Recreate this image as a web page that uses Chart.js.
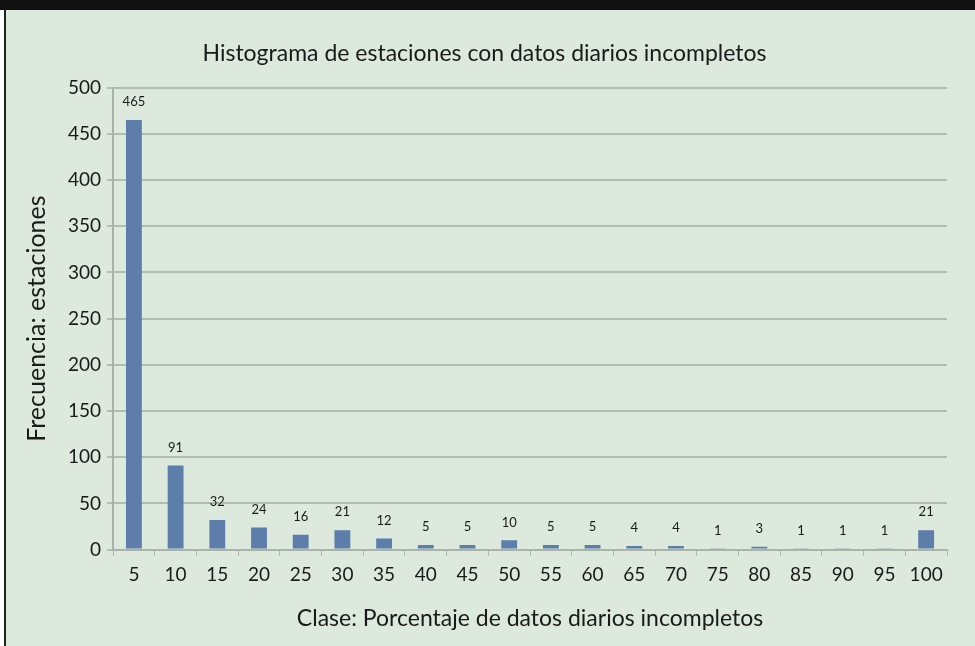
<!DOCTYPE html>
<html>
<head>
<meta charset="utf-8">
<script src="https://cdn.jsdelivr.net/npm/chart.js@4/dist/chart.umd.min.js"></script>
<style>
  html, body { margin: 0; padding: 0; background: #ffffff; }
  #frame {
    position: absolute; left: 0; top: 0; width: 975px; height: 646px;
    box-sizing: border-box; border-top: 10px solid #111;
  }
  #inner {
    position: absolute; left: 4px; top: 0; right: 0; bottom: 0;
    border-left: 2px solid #222; background: #dde9dc;
  }
  #chart { position: absolute; left: 0; top: 0; }
</style>
</head>
<body>
<div id="frame"><div id="inner"><canvas id="chart" width="969" height="636"></canvas></div></div>
<script>
// Clases (porcentaje de datos diarios incompletos)
const clases = ["5", "10", "15", "20", "25", "30", "35", "40", "45", "50",
                "55", "60", "65", "70", "75", "80", "85", "90", "95", "100"];

// Frecuencia: número de estaciones por clase
const frecuencias = [465, 91, 32, 24, 16, 21, 12, 5, 5, 10,
                     5, 5, 4, 4, 1, 3, 1, 1, 1, 21];

const yTicks = [0, 50, 100, 150, 200, 250, 300, 350, 400, 450, 500];

const fontFamily = "Lato, 'Open Sans', sans-serif";
const textColor = "#1a1a1a";

// etiquetas de valor encima de cada barra
const barLabels = {
    id: "barLabels",
    afterDatasetsDraw(chart) {
        const ctx = chart.ctx;
        const meta = chart.getDatasetMeta(0);
        ctx.save();
        ctx.font = "13px " + fontFamily;
        ctx.fillStyle = textColor;
        ctx.textAlign = "center";
        ctx.textBaseline = "middle";
        meta.data.forEach((bar, i) => {
            ctx.fillText(String(frecuencias[i]), bar.x, bar.y - 18);
        });
        ctx.restore();
    }
};

new Chart(document.getElementById("chart"), {
    type: "bar",
    data: {
        labels: clases,
        datasets: [{
            label: "Frecuencia",
            data: frecuencias,
            backgroundColor: "#5d7daa",
            borderWidth: 0,
            barPercentage: 0.38,
            categoryPercentage: 1.0
        }]
    },
    options: {
        responsive: false,
        animation: false,
        layout: {
            padding: { left: 16, right: 28, top: 16, bottom: 14 }
        },
        plugins: {
            legend: { display: false },
            tooltip: { enabled: false },
            title: {
                display: true,
                text: "Histograma de estaciones con datos diarios incompletos",
                color: textColor,
                font: { family: fontFamily, size: 23, weight: "normal" },
                padding: { top: 14, bottom: 20 }
            }
        },
        scales: {
            x: {
                grid: {
                    display: true,
                    drawOnChartArea: false,
                    drawTicks: true,
                    tickLength: 6,
                    color: "#a9b3a7"
                },
                border: { color: "#a9b3a7", width: 2 },
                ticks: {
                    color: textColor,
                    font: { family: fontFamily, size: 19 },
                    padding: 8,
                    maxRotation: 0,
                    autoSkip: false
                },
                title: {
                    display: true,
                    text: "Clase: Porcentaje de datos diarios incompletos",
                    color: textColor,
                    font: { family: fontFamily, size: 23 },
                    padding: { top: 10, bottom: 0 }
                }
            },
            y: {
                min: 0,
                max: 500,
                afterBuildTicks(axis) {
                    axis.ticks = yTicks.map(v => ({ value: v }));
                },
                grid: {
                    color: "#b3bcb1",
                    lineWidth: 2,
                    drawTicks: true,
                    tickLength: 6
                },
                border: { color: "#a9b3a7", width: 2 },
                ticks: {
                    color: textColor,
                    font: { family: fontFamily, size: 19 },
                    padding: 6
                },
                title: {
                    display: true,
                    text: "Frecuencia: estaciones",
                    color: textColor,
                    font: { family: fontFamily, size: 25 },
                    padding: { top: 0, bottom: 10 }
                }
            }
        }
    },
    plugins: [barLabels]
});
</script>
</body>
</html>
